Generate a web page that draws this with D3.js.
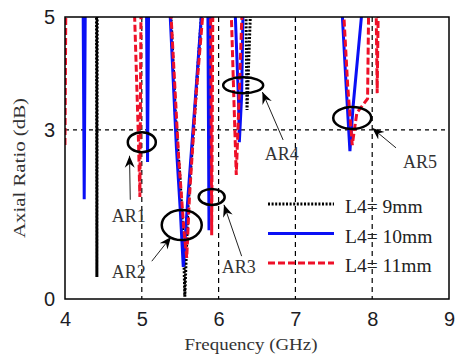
<!DOCTYPE html>
<html>
<head>
<meta charset="utf-8">
<script src="https://cdnjs.cloudflare.com/ajax/libs/d3/7.8.5/d3.min.js"></script>
<style>
  body { margin: 0; background: #fff; }
  svg { display: block; }
</style>
</head>
<body>
<div id="chart"></div>
<script>
"use strict"
// Axial ratio vs frequency, three L4 values
var xTicks = [4, 5, 6, 7, 8, 9];
var yTicks = [0, 3, 5];
var xGrid = [5, 6, 7, 8];
var yGrid = [3];

var seriesNames = ["L4= 9mm", "L4= 10mm", "L4= 11mm"];

// values above 5 dB run off the top of the plot and get clipped
var l4_9mm = [
  [4.00, 6.5], [4.41, 5.5], [4.415, 0.39], [4.42, 5.5],
  [5.37, 5.3], [5.44, 3.2], [5.50, 2.1], [5.545, 0.9], [5.56, 0.04], [5.60, 1.6], [5.70, 3.5], [5.79, 5.3],
  [6.355, 5.3], [6.37, 3.35], [6.415, 5.1],
  [9.00, 6.5]
];
var l4_10mm = [
  [4.00, 6.5], [4.235, 5.5], [4.25, 1.77], [4.265, 5.5],
  [5.06, 5.5], [5.075, 2.43], [5.09, 5.5],
  [5.36, 5.3], [5.45, 2.7], [5.50, 1.6], [5.54, 0.57], [5.60, 1.8], [5.70, 3.6], [5.79, 5.3],
  [5.86, 5.3], [5.875, 1.22], [5.895, 5.3],
  [6.21, 5.3], [6.26, 3.5], [6.27, 2.78], [6.30, 3.6], [6.32, 5.3],
  [7.60, 5.3], [7.66, 3.8], [7.71, 2.62], [7.75, 3.4], [7.88, 5.3],
  [9.00, 6.5]
];
var l4_11mm = [
  [4.00, 2.73], [4.012, 5.5],
  [4.90, 5.3], [4.955, 2.9], [4.975, 1.81], [4.99, 5.3],
  [5.37, 5.3], [5.48, 2.5], [5.55, 1.2], [5.585, 0.73], [5.62, 1.8], [5.70, 3.5], [5.81, 5.3],
  [5.895, 5.3], [5.91, 1.13], [5.925, 5.3],
  [6.16, 5.3], [6.20, 3.5], [6.23, 2.2], [6.26, 3.3], [6.31, 5.3],
  [7.62, 5.3], [7.68, 3.8], [7.74, 2.73], [7.80, 3.3], [7.94, 3.55], [7.955, 5.3],
  [8.05, 5.3], [8.065, 3.65], [8.08, 5.3],
  [9.00, 6.5]
];

// callouts: ellipse centre, arrow tail -> tip, label anchor (all in GHz / dB)
var noteLabels = ["AR1", "AR2", "AR3", "AR4", "AR5"];
var noteCentres = [[5.00, 2.78], [5.52, 1.31], [5.91, 1.81], [6.32, 3.79], [7.74, 3.21]];
var noteTails = [[4.85, 1.76], [5.13, 0.67], [6.30, 0.76], [6.84, 2.82], [8.31, 2.68]];
var noteTips = [[4.84, 2.54], [5.38, 1.10], [6.07, 1.67], [6.57, 3.67], [8.00, 3.03]];
var noteText = [[4.61, 1.37], [4.61, 0.37], [6.04, 0.46], [6.60, 2.46], [8.40, 2.32]];

var width = 458;
var height = 358;
var margin = {top: 17, right: 9, bottom: 59, left: 65};
var drawWidth = width - margin.left - margin.right;
var drawHeight = height - margin.top - margin.bottom;

var serif = "'Liberation Serif', 'Times New Roman', serif";
var sans = "'Liberation Sans', Arial, sans-serif";

var xScale = d3.scaleLinear().domain([4, 9]).range([0, drawWidth]);
var yScale = d3.scaleLinear().domain([0, 5]).range([drawHeight, 0]);

var svg = d3.select("#chart").append("svg")
    .attr("width", width)
    .attr("height", height);

svg.append("defs").append("clipPath").attr("id", "plotClip")
  .append("rect").attr("width", drawWidth).attr("height", drawHeight);

svg.select("defs").append("marker")
    .attr("id", "head")
    .attr("viewBox", "-12 -6 14 12")
    .attr("refX", 0).attr("refY", 0)
    .attr("markerWidth", 14).attr("markerHeight", 12)
    .attr("markerUnits", "userSpaceOnUse")
    .attr("orient", "auto")
  .append("path")
    .attr("d", "M0,0 L-12,-5 L-8,0 L-12,5 Z")
    .attr("fill", "#000");

var g = svg.append("g")
    .attr("transform", "translate(" + margin.left + "," + margin.top + ")");

// grid
g.selectAll(".xgrid").data(xGrid).enter().append("line")
    .attr("x1", xScale).attr("x2", xScale)
    .attr("y1", 0).attr("y2", drawHeight)
    .attr("stroke", "#000").attr("stroke-width", 1.2)
    .attr("stroke-dasharray", "5,4");
g.selectAll(".ygrid").data(yGrid).enter().append("line")
    .attr("x1", 0).attr("x2", drawWidth)
    .attr("y1", yScale).attr("y2", yScale)
    .attr("stroke", "#000").attr("stroke-width", 1.2)
    .attr("stroke-dasharray", "4,4");

// axes
var xAxis = d3.axisBottom(xScale).tickValues(xTicks).tickFormat(d3.format("d")).tickSize(0).tickPadding(13);
var yAxis = d3.axisLeft(yScale).tickValues(yTicks).tickFormat(d3.format("d")).tickSize(0).tickPadding(10);

var gx = g.append("g").attr("transform", "translate(0," + drawHeight + ")").call(xAxis);
var gy = g.append("g").call(yAxis);
[gx, gy].forEach(function(a) {
  a.select(".domain").remove();
  a.selectAll("text")
    .attr("font-family", sans)
    .attr("font-size", 20)
    .attr("fill", "#1c1c24");
});

var line = d3.line()
    .x(function(d) { return xScale(d[0]); })
    .y(function(d) { return yScale(d[1]); });

var styles = [
  {color: "#000000", dash: "2,1.6", w: 3},
  {color: "#0a10f5", dash: null, w: 3},
  {color: "#ee1028", dash: "7,3", w: 3}
];
var allSeries = [l4_9mm, l4_10mm, l4_11mm];

var plot = g.append("g").attr("clip-path", "url(#plotClip)");
allSeries.forEach(function(s, i) {
  plot.append("path")
    .datum(s)
    .attr("fill", "none")
    .attr("stroke", styles[i].color)
    .attr("stroke-width", styles[i].w)
    .attr("stroke-dasharray", styles[i].dash)
    .attr("d", line);
});

// frame
g.append("rect")
    .attr("width", drawWidth).attr("height", drawHeight)
    .attr("fill", "none").attr("stroke", "#000").attr("stroke-width", 1.5);

// callouts
noteLabels.forEach(function(lbl, i) {
  var rx = [14, 20, 13, 20, 19][i];
  var ry = [10, 15, 8, 8, 11][i];
  g.append("ellipse")
    .attr("cx", xScale(noteCentres[i][0])).attr("cy", yScale(noteCentres[i][1]))
    .attr("rx", rx).attr("ry", ry)
    .attr("fill", "none").attr("stroke", "#000").attr("stroke-width", 2.5);
  g.append("line")
    .attr("x1", xScale(noteTails[i][0])).attr("y1", yScale(noteTails[i][1]))
    .attr("x2", xScale(noteTips[i][0])).attr("y2", yScale(noteTips[i][1]))
    .attr("stroke", "#222").attr("stroke-width", 1)
    .attr("marker-end", "url(#head)");
  g.append("text")
    .attr("x", xScale(noteText[i][0])).attr("y", yScale(noteText[i][1]))
    .attr("font-family", serif).attr("font-size", 18)
    .attr("fill", "#333")
    .text(lbl);
});

// legend
var legend = g.append("g").attr("transform", "translate(203,187)");
seriesNames.forEach(function(name, i) {
  var row = legend.append("g").attr("transform", "translate(0," + (i * 29.5) + ")");
  row.append("line")
    .attr("x1", 0).attr("x2", 66).attr("y1", 0).attr("y2", 0)
    .attr("stroke", styles[i].color)
    .attr("stroke-width", styles[i].w)
    .attr("stroke-dasharray", styles[i].dash);
  row.append("text")
    .attr("x", 77).attr("y", 9)
    .attr("font-family", serif).attr("font-size", 19.5)
    .attr("fill", "#222")
    .text(name);
});

// axis titles
svg.append("text")
    .attr("x", 251).attr("y", 350)
    .attr("text-anchor", "middle")
    .attr("font-family", serif).attr("font-size", 17)
    .attr("textLength", 133).attr("lengthAdjust", "spacingAndGlyphs")
    .attr("fill", "#333")
    .text("Frequency (GHz)");

svg.append("text")
    .attr("transform", "translate(25,168) rotate(-90)")
    .attr("text-anchor", "middle")
    .attr("font-family", serif).attr("font-size", 17)
    .attr("textLength", 140).attr("lengthAdjust", "spacingAndGlyphs")
    .attr("fill", "#333")
    .text("Axial Ratio (dB)");
</script>
</body>
</html>
